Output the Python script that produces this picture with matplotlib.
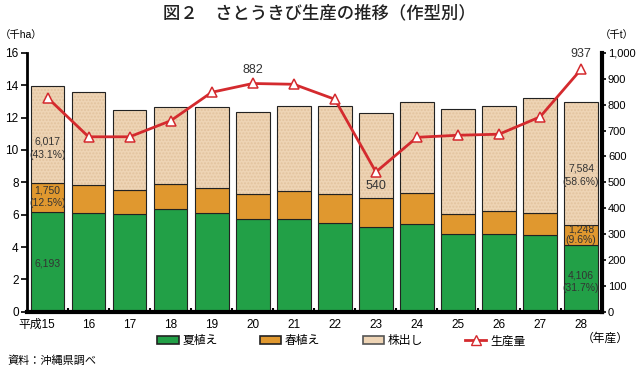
import numpy as np
import matplotlib
matplotlib.use("Agg")
import matplotlib.pyplot as plt
import matplotlib.transforms as mtransforms
from matplotlib.patches import Patch
from matplotlib.lines import Line2D
from matplotlib.ticker import FuncFormatter

plt.rcParams['font.family'] = ['Liberation Sans', 'Noto Sans CJK JP', 'DejaVu Sans']

# データ（千ha / 千t）
years = ['平成15', '16', '17', '18', '19', '20', '21', '22', '23', '24', '25', '26', '27', '28']
natsu = [6.193, 6.12, 6.06, 6.35, 6.12, 5.75, 5.75, 5.47, 5.26, 5.44, 4.79, 4.80, 4.74, 4.106]   # 夏植え
haru = [1.750, 1.74, 1.47, 1.55, 1.51, 1.51, 1.70, 1.79, 1.75, 1.90, 1.25, 1.45, 1.36, 1.248]    # 春植え
kabu = [6.017, 5.74, 4.94, 4.78, 5.01, 5.11, 5.29, 5.48, 5.28, 5.65, 6.50, 6.47, 7.12, 7.584]    # 株出し
seisan = [827, 676, 676, 738, 848, 882, 879, 821, 540, 674, 682, 686, 753, 937]                  # 生産量

c_natsu = '#22A047'
c_haru = '#E0982F'
c_kabu = '#EED4B5'
c_line = '#D42A2E'

x = np.arange(len(years))
natsu = np.array(natsu); haru = np.array(haru); kabu = np.array(kabu)

fig = plt.figure(figsize=(6.38, 3.73), dpi=100)
ax = fig.add_axes([0.0423, 0.1643, 0.9007, 0.6937])
w = 0.82

ax.bar(x, natsu, w, color=c_natsu, edgecolor='#222222', linewidth=0.8, zorder=2)
ax.bar(x, haru, w, bottom=natsu, color=c_haru, edgecolor='#222222', linewidth=0.8, zorder=2)
# 株出し: 点描テクスチャ + 枠線
ax.bar(x, kabu, w, bottom=natsu + haru, color=c_kabu, edgecolor='#E2C39E', hatch='.....',
       linewidth=0, zorder=2)
ax.bar(x, kabu, w, bottom=natsu + haru, fill=False, edgecolor='#222222', linewidth=0.8, zorder=3)

ax.set_xlim(-0.5, len(years) - 0.5)
ax.set_ylim(0, 16)
ax.set_yticks(range(0, 17, 2))
ax.set_xticks(x)
ax.set_xticklabels(years)
ax.set_xticks(np.arange(0.5, len(years) - 1, 1), minor=True)
ax.tick_params(axis='x', which='major', length=0, labelsize=8.5, pad=5)
ax.tick_params(axis='x', which='minor', length=3, width=1.5, direction='in')
ax.tick_params(axis='y', length=4, width=1.2, labelsize=8.5, pad=2)
ax.spines['top'].set_visible(False)
ax.spines['right'].set_visible(False)
ax.spines['left'].set_linewidth(2)
ax.spines['bottom'].set_linewidth(3)

# 「平成15」を少し左へ
lab0 = ax.get_xticklabels()[0]
lab0.set_transform(lab0.get_transform() + mtransforms.ScaledTranslation(-0.11, 0, fig.dpi_scale_trans))

ax2 = ax.twinx()
ax2.plot(x, seisan, color=c_line, linewidth=2, marker='^', markersize=7,
         markerfacecolor='white', markeredgecolor=c_line, markeredgewidth=1.1, zorder=5)
ax2.set_ylim(0, 1000)
ax2.set_yticks(range(0, 1001, 100))
ax2.yaxis.set_major_formatter(FuncFormatter(lambda v, p: f'{int(v):,}'))
ax2.tick_params(axis='y', length=3, width=1.2, labelsize=8, pad=1.5)
for s in ['top', 'left', 'bottom']:
    ax2.spines[s].set_visible(False)
ax2.spines['right'].set_linewidth(3)

# 数値ラベル
tc = '#333333'
fs = 7.5
ax.text(0, 10.1, '6,017\n(43.1%)', ha='center', va='center', fontsize=fs, color=tc, linespacing=1.4, zorder=6)
ax.text(0, 7.1, '1,750\n(12.5%)', ha='center', va='center', fontsize=fs, color=tc, linespacing=1.4, zorder=6)
ax.text(0, 3.0, '6,193', ha='center', va='center', fontsize=fs, color=tc, zorder=6)
ax.text(13, 8.45, '7,584\n(58.6%)', ha='center', va='center', fontsize=fs, color=tc, linespacing=1.4, zorder=6)
ax.text(13, 4.74, '1,248\n(9.6%)', ha='center', va='center', fontsize=fs, color=tc, linespacing=1.05, zorder=6)
ax.text(13, 1.85, '4,106\n(31.7%)', ha='center', va='center', fontsize=fs, color=tc, linespacing=1.4, zorder=6)

ax2.text(5, seisan[5] + 52, '882', ha='center', va='center', fontsize=9, color=tc)
ax2.text(8, seisan[8] - 54, '540', ha='center', va='center', fontsize=9, color=tc)
ax2.text(13, seisan[13] + 60, '937', ha='center', va='center', fontsize=9, color=tc, clip_on=False)

# タイトル・単位
fig.text(0.5, 0.965, '図２　さとうきび生産の推移（作型別）', ha='center', va='center',
         fontsize=12.5, fontweight='medium', color='#222222')
fig.text(0.0, 0.905, '（千ha）', ha='left', va='center', fontsize=7.5)
fig.text(0.94, 0.905, '（千t）', ha='left', va='center', fontsize=7.5)
fig.text(0.912, 0.093, '（年産）', ha='left', va='center', fontsize=8.5)
fig.text(0.012, 0.018, '資料：沖縄県調べ', ha='left', va='bottom', fontsize=8)

handles = [
    Patch(facecolor=c_natsu, edgecolor='#222222', linewidth=1.2),
    Patch(facecolor=c_haru, edgecolor='#222222', linewidth=1.2),
    Patch(facecolor=c_kabu, edgecolor='#555555', linewidth=1.2),
    Line2D([0], [0], color=c_line, linewidth=2, marker='^', markersize=7,
           markerfacecolor='white', markeredgecolor=c_line),
]
fig.legend(handles, ['夏植え', '春植え', '株出し', '生産量'], loc='center', ncol=4,
           bbox_to_anchor=(0.535, 0.085), frameon=False, fontsize=8.5,
           handlelength=1.8, handleheight=0.6, handletextpad=0.3, columnspacing=3.6)

fig.savefig('out.png', dpi=100)
